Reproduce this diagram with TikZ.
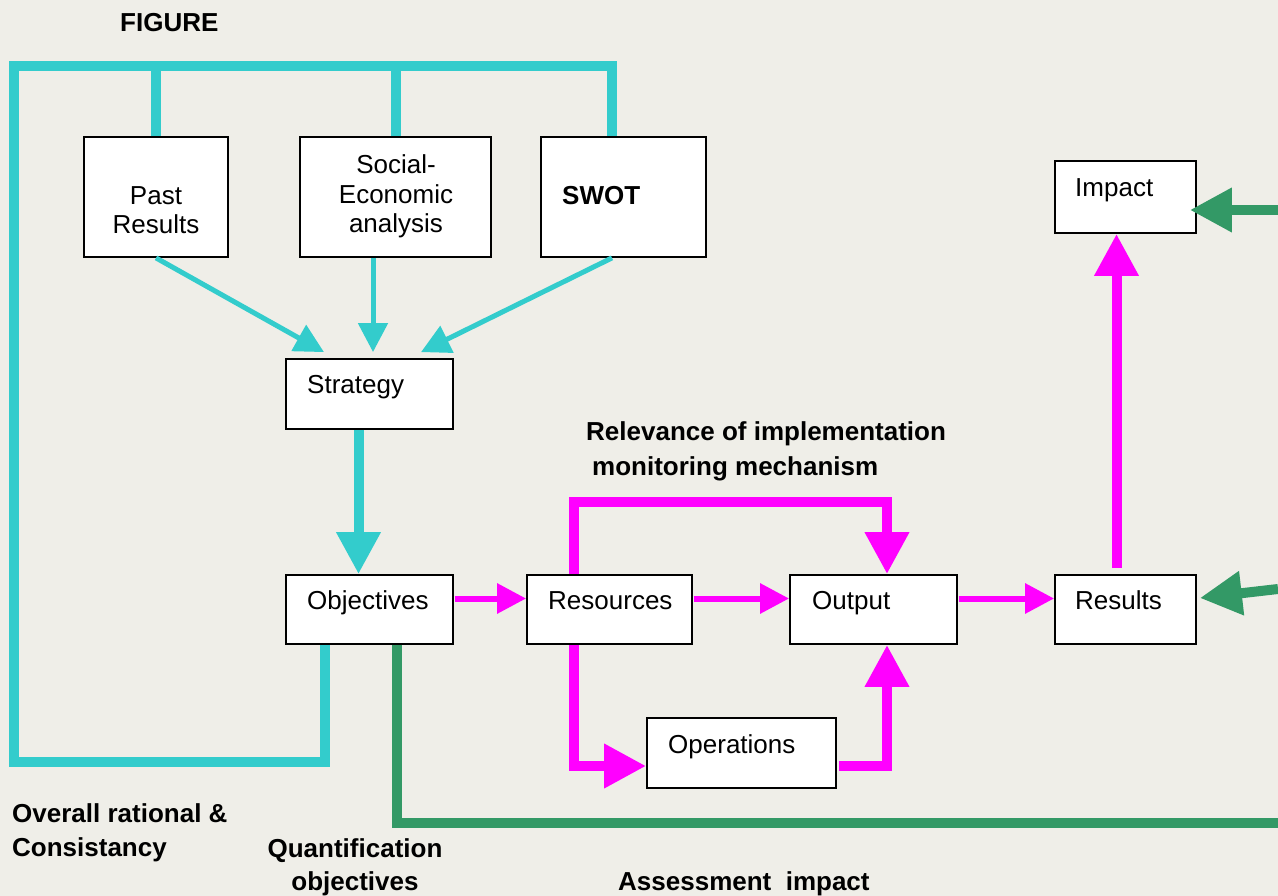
\documentclass[tikz,border=0pt]{standalone}
\usepackage{fontspec}
\setmainfont{Liberation Sans}
\usetikzlibrary{arrows.meta,calc}

\definecolor{bgpage}{HTML}{EFEEE8}
\definecolor{cyanline}{HTML}{33CCCC}
\definecolor{pinkline}{HTML}{FF00FF}
\definecolor{greenline}{HTML}{339966}

\tikzset{
  box/.style={draw=black, line width=1.8pt, fill=white, inner sep=0pt},
  boxtext/.style={inner sep=0pt, anchor=base west, font=\fontsize{26}{29.5}\selectfont},
  note/.style={inner sep=0pt, anchor=base west, align=left, font=\fontsize{26}{34}\selectfont\bfseries},
  bighead/.style={-{Triangle[length=42pt,width=42pt]}},
  smallhead/.style={-{Triangle[length=29pt,width=29pt]}},
  cyanthin/.style={cyanline, line width=5pt, smallhead},
  cyanthick/.style={cyanline, line width=10pt},
  pinkthin/.style={pinkline, line width=6pt, smallhead},
  pinkthick/.style={pinkline, line width=10pt},
  greenthick/.style={greenline, line width=10pt},
}

\begin{document}
\begin{tikzpicture}[x=1pt, y=-1pt]
\path[fill=bgpage, use as bounding box] (0,0) rectangle (1278,896);
\clip (0,0) rectangle (1278,896);

% boxes
\node[box, minimum width=144, minimum height=120] (past) at (156,197) {};
\node[box, minimum width=191, minimum height=120] (social) at (395.5,197) {};
\node[box, minimum width=165, minimum height=120] (swot) at (623.5,197) {};
\node[box, minimum width=141, minimum height=72] (impact) at (1125.5,197) {};
\node[box, minimum width=167, minimum height=70] (strat) at (369.5,394) {};
\node[box, minimum width=167, minimum height=69] (obj) at (369.5,609.5) {};
\node[box, minimum width=165, minimum height=69] (res) at (609.5,609.5) {};
\node[box, minimum width=167, minimum height=69] (out) at (873.5,609.5) {};
\node[box, minimum width=141, minimum height=69] (resl) at (1125.5,609.5) {};
\node[box, minimum width=189, minimum height=70] (ops) at (741.5,753) {};

% box texts
\node[boxtext, anchor=north, align=center] (pastT) at (156,186) {Past\\Results};
\node[boxtext, anchor=north, align=center] (socialT) at (396,154.5) {Social-\\Economic\\analysis};
\node[boxtext] (swotT) at (562,205) {\bfseries SWOT};
\node[boxtext] (impactT) at (1075,197) {Impact};
\node[boxtext] (stratT) at (307,393) {Strategy};
\node[boxtext] (objT) at (307,609) {Objectives};
\node[boxtext] (resT) at (548,609) {Resources};
\node[boxtext] (outT) at (812,609) {Output};
\node[boxtext] (reslT) at (1075,609) {Results};
\node[boxtext] (opsT) at (668,753) {Operations};

% labels
\node[note] (figT) at (120,32) {FIGURE};
\node[note, anchor=north west, font=\fontsize{26}{35}\selectfont\bfseries] (relT) at (586,421)
  {Relevance of implementation\\\hspace{6pt}monitoring mechanism};
\node[note, anchor=north west] (ratT) at (12,803) {Overall rational \&\\Consistancy};
\node[note, anchor=north, align=center, font=\fontsize{26}{33}\selectfont\bfseries] (quantT) at (355,838)
  {Quantification\\objectives};
\node[note] (assessT) at (618,890) {Assessment\ \ impact};

% cyan frame
\coordinate (frameL) at (14,762);
\coordinate (topL) at (14,66);
\coordinate (swotTop) at ($(swot.north)+(-11.5,0)$);
\draw[cyanthick] ($(obj.south)+(-44.5,0)$) |- (frameL) -- (topL) -| (swotTop);
\draw[cyanthick] (past.north) -- (past.north |- topL);
\draw[cyanthick] (social.north) -- (social.north |- topL);

% into strategy
\draw[cyanthin] (past.south) -- ($(strat.north)+(-45.5,-6)$);
\draw[cyanthin] ($(social.south)+(-22.5,0)$) -- ($(strat.north)+(3.5,-6)$);
\draw[cyanthin] ($(swot.south)+(-11.5,0)$) -- ($(strat.north)+(51.5,-6)$);
\draw[cyanthick, bighead] ($(strat.south)+(-11,0)$) -- ($(obj.north)+(-11,0)$);

% main chain
\draw[pinkthin] ($(obj.east)+(1,-11)$) -- ($(res.west)+(0,-11)$);
\draw[pinkthin] ($(res.east)+(1,-11)$) -- ($(out.west)+(0,-11)$);
\draw[pinkthin] ($(out.east)+(1,-11)$) -- ($(resl.west)+(0,-11)$);

\coordinate (loopTop) at (574,502);
\coordinate (loopBot) at (574,766);
\coordinate (opsR) at (839,766);
\draw[pinkthick, bighead] (res.north -| loopTop) -- (loopTop) -| ($(out.north)+(13.5,0)$);
\draw[pinkthick, bighead] (res.south -| loopBot) -- (loopBot) -- (loopBot -| ops.west);
\draw[pinkthick, bighead] (opsR) -| ($(out.south)+(13.5,0)$);
\draw[pinkthick, bighead] ($(resl.north)+(-9,-6)$) -- ($(impact.south)+(-9,0)$);

% assessment
\coordinate (edgeBot) at (1278,823);
\coordinate (inImp) at (1278,210);
\coordinate (inRes) at (1278,589);
\draw[greenthick] ($(obj.south)+(27,0)$) |- (edgeBot);
\draw[greenthick, bighead] (inImp) -- ($(impact.east)+(-7,13)$);
\draw[greenthick, bighead] (inRes) -- ($(resl.east)+(3,-11.5)$);
\end{tikzpicture}
\end{document}
